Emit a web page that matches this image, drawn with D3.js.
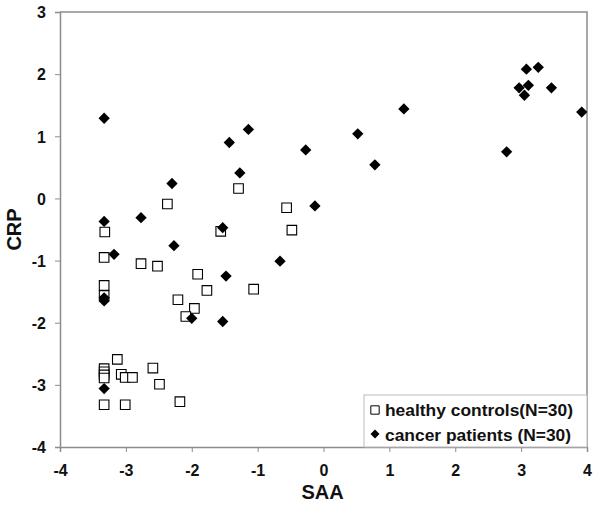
<!DOCTYPE html>
<html>
<head>
<meta charset="utf-8">
<script src="https://cdn.jsdelivr.net/npm/d3@7"></script>
<style>
  body { margin: 0; background: #fff; }
  text { font-family: "Liberation Sans", Arial, sans-serif; font-weight: bold; }
</style>
</head>
<body>
<svg id="chart" width="600" height="514"></svg>
<script>
// ---- data ----
const healthySAA = [-3.32, -2.37, -1.29, -1.56, -0.56, -0.48,
  -3.33, -2.77, -2.52, -1.91, -3.33, -3.33, -1.77, -2.21, -1.96, -2.09, -1.06,
  -3.13, -3.33, -3.33, -3.33, -3.33, -3.07, -3.01, -2.90, -2.59, -2.49, -2.18, -3.33, -3.01];
const healthyCRP = [-0.54, -0.09, 0.16, -0.53, -0.15, -0.51,
  -0.95, -1.05, -1.09, -1.22, -1.40, -1.56, -1.48, -1.63, -1.77, -1.90, -1.46,
  -2.59, -2.74, -2.79, -2.84, -2.89, -2.83, -2.88, -2.88, -2.73, -2.99, -3.27, -3.32, -3.32];
const cancerSAA = [-3.33, -3.33, -2.77, -2.30, -2.27, -1.43, -1.14, -1.27, -1.53, -3.18, -0.66,
  -1.48, -2.00, -1.53, -3.33, -3.33, -3.33,
  -0.27, -0.13, 0.52, 0.78, 1.22, 2.78, 3.08, 3.26, 2.97, 3.11, 3.05, 3.46, 3.92];
const cancerCRP = [1.29, -0.37, -0.31, 0.24, -0.76, 0.90, 1.11, 0.41, -0.47, -0.90, -1.01,
  -1.25, -1.93, -1.98, -3.06, -1.65, -1.60,
  0.78, -0.12, 1.04, 0.54, 1.44, 0.75, 2.08, 2.11, 1.78, 1.82, 1.66, 1.78, 1.39];
const xTicks = [-4, -3, -2, -1, 0, 1, 2, 3, 4];
const yTicks = [-4, -3, -2, -1, 0, 1, 2, 3];
const legendLabels = ["healthy controls(N=30)", "cancer patients (N=30)"];
const xTitle = "SAA";
const yTitle = "CRP";

// ---- layout ----
const svg = d3.select("#chart");
const pL = 60, pR = 587, pT = 12, pB = 447;
const x = d3.scaleLinear().domain([-4, 4]).range([pL, pR]);
const y = d3.scaleLinear().domain([-4, 3]).range([pB, pT]);
const axisColor = "#8c8c8c";

// frame (top and right)
svg.append("path")
  .attr("d", `M${pL},${pT}H${pR}V${pB}`)
  .attr("fill", "none").attr("stroke", axisColor).attr("stroke-width", 1.5);

// axes
const fmt = d => String(d);
const xAxis = svg.append("g").attr("transform", `translate(0,${pB})`)
  .call(d3.axisBottom(x).tickValues(xTicks).tickSize(5).tickPadding(13).tickFormat(fmt));
const yAxis = svg.append("g").attr("transform", `translate(${pL},0)`)
  .call(d3.axisLeft(y).tickValues(yTicks).tickSize(5).tickPadding(9).tickFormat(fmt));
[xAxis, yAxis].forEach(g => {
  g.attr("font-family", null).attr("font-size", null);
  g.select(".domain").attr("stroke", axisColor).attr("stroke-width", 1.5);
  g.selectAll(".tick line").attr("stroke", axisColor).attr("stroke-width", 1);
  g.selectAll(".tick text").attr("fill", "#111").attr("font-size", 16)
    .style("font-family", "'Liberation Sans', Arial, sans-serif").style("font-weight", "bold");
});
xAxis.selectAll(".tick text").attr("dy", "0.71em");
yAxis.selectAll(".tick text").attr("dy", "0.36em");

// axis titles
svg.append("text").attr("x", (pL + pR) / 2 - 1).attr("y", 499)
  .attr("text-anchor", "middle").attr("font-size", 20).attr("fill", "#111").text(xTitle);
svg.append("text").attr("transform", `translate(21,${(pT + pB) / 2}) rotate(-90)`)
  .attr("text-anchor", "middle").attr("font-size", 20).attr("fill", "#111").text(yTitle);

// markers
const sq = d3.symbol().type(d3.symbolSquare).size(92);
const dm = d3.symbol().type(d3.symbolSquare).size(64);

svg.append("g").selectAll("path").data(healthySAA.map((v, i) => [v, healthyCRP[i]]))
  .join("path")
  .attr("d", sq)
  .attr("transform", d => `translate(${x(d[0])},${y(d[1])})`)
  .attr("fill", "#fff").attr("stroke", "#000").attr("stroke-width", 1.1);

svg.append("g").selectAll("path").data(cancerSAA.map((v, i) => [v, cancerCRP[i]]))
  .join("path")
  .attr("d", dm)
  .attr("transform", d => `translate(${x(d[0])},${y(d[1])}) rotate(45)`)
  .attr("fill", "#000");

// legend
const lg = svg.append("g");
lg.append("rect").attr("x", 364).attr("y", 395).attr("width", pR - 364).attr("height", pB - 395)
  .attr("fill", "#fff").attr("stroke", "#bbb").attr("stroke-width", 1);
lg.append("path").attr("d", d3.symbol().type(d3.symbolSquare).size(70)()).attr("transform", `translate(375,410)`)
  .attr("fill", "#fff").attr("stroke", "#000").attr("stroke-width", 1);
lg.append("path").attr("d", d3.symbol().type(d3.symbolSquare).size(40)()).attr("transform", `translate(375,434) rotate(45)`)
  .attr("fill", "#000");
lg.selectAll("text.lt").data(legendLabels).join("text")
  .attr("class", "lt")
  .attr("x", 385).attr("y", (d, i) => 416 + i * 24.5)
  .attr("font-size", 17.4).attr("fill", "#111").text(d => d);
</script>
</body>
</html>
